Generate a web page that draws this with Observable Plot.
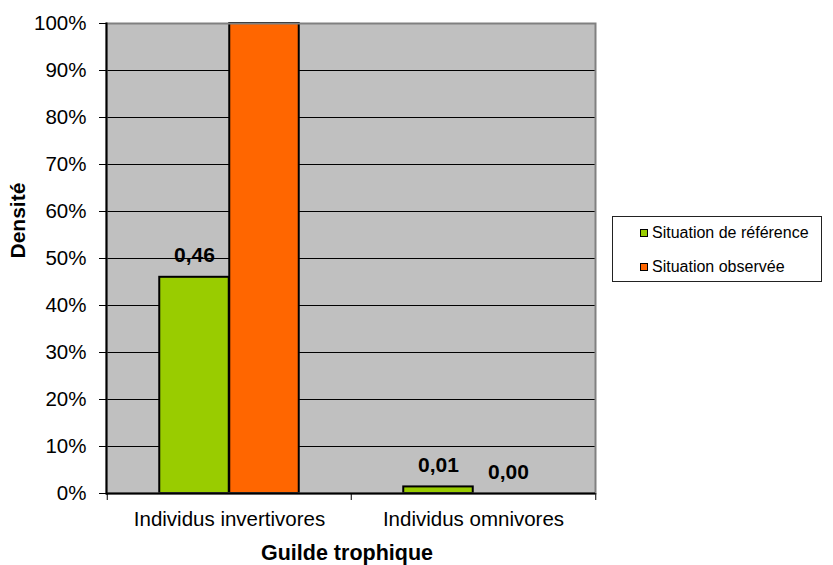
<!DOCTYPE html>
<html>
<head>
<meta charset="utf-8">
<script src="https://cdn.jsdelivr.net/npm/d3@7"></script>
<script src="https://cdn.jsdelivr.net/npm/@observablehq/plot@0.6"></script>
<style>
  html, body { margin: 0; padding: 0; background: #fff; }
  #chart { position: relative; width: 833px; height: 565px; font-family: "Liberation Sans", Arial, sans-serif; }
  .legend { position: absolute; left: 612px; top: 216px; width: 210px; height: 66px; border: 1px solid #222; box-sizing: border-box; background: #fff; }
  .legend .row { position: absolute; left: 27px; display: flex; align-items: center; font-size: 16px; color: #000; white-space: nowrap; }
  .legend .sw { width: 6px; height: 6px; border: 1.5px solid #000; margin-right: 4px; }
</style>
</head>
<body>
<div id="chart"></div>
<script>
// Trophic guild densities: reference vs observed situation
const categories = ["Individus invertivores", "Individus omnivores"];
const series = ["Situation de référence", "Situation observée"];
const reference = [0.46, 0.014];
const observed = [1.0, 0.0];
const yTicks = [0, 0.1, 0.2, 0.3, 0.4, 0.5, 0.6, 0.7, 0.8, 0.9, 1.0];
const colors = ["#99cc00", "#ff6600"];

const rows = categories.flatMap((cat, i) => [
  {cat, series: series[0], value: reference[i]},
  {cat, series: series[1], value: observed[i]}
]);

const width = 833, height = 565;
const marginLeft = 106, marginRight = 238, marginTop = 23, marginBottom = 72;
const band = (width - marginLeft - marginRight) / categories.length;
const barWidth = 70;
const outer = (band - 2 * barWidth) / 2;

const fr = d3.formatLocale({decimal: ",", thousands: " ", grouping: [3], currency: ["", " €"]});
const fmtValue = fr.format(".2f");
const fmtPct = d3.format(".0%");

// value labels are only shown when they fit below the top of the plot area
const labelled = (s) => rows.filter(d => d.series === s && d.value < 1);

const font = "Liberation Sans, Arial, sans-serif";

const plot = Plot.plot({
  width, height, marginLeft, marginRight, marginTop, marginBottom,
  style: {fontFamily: font, fontSize: "20.5px", color: "#000", background: "transparent"},
  x: {domain: categories, padding: 0},
  y: {domain: [0, 1]},
  marks: [
    Plot.frame({fill: "#c0c0c0", stroke: "none"}),
    Plot.ruleY(yTicks.filter(t => t > 0 && t < 1), {stroke: "#000", strokeWidth: 1}),
    Plot.barY(rows.filter(d => d.series === series[0]), {
      x: "cat", y: "value", fill: colors[0], stroke: "#000", strokeWidth: 2,
      insetLeft: outer, insetRight: outer + barWidth
    }),
    Plot.barY(rows.filter(d => d.series === series[1] && d.value > 0), {
      x: "cat", y: "value", fill: colors[1], stroke: "#000", strokeWidth: 2,
      insetLeft: outer + barWidth, insetRight: outer
    }),
    Plot.text(labelled(series[0]), {
      x: "cat", y: "value", text: d => fmtValue(d.value), dx: -barWidth / 2, dy: -15,
      lineAnchor: "bottom", fontWeight: "bold", fontSize: 21, fill: "#000"
    }),
    Plot.text(labelled(series[1]), {
      x: "cat", y: "value", text: d => fmtValue(d.value), dx: barWidth / 2, dy: -15,
      lineAnchor: "bottom", fontWeight: "bold", fontSize: 21, fill: "#000"
    }),
    Plot.frame({stroke: "#808080", strokeWidth: 2}),
    Plot.frame({anchor: "left", stroke: "#000", strokeWidth: 2}),
    Plot.ruleY([0], {stroke: "#000", strokeWidth: 2}),
    Plot.axisY({ticks: yTicks, tickFormat: fmtPct, tickSize: 7, tickPadding: 13, fontSize: 20.5, label: null}),
    Plot.axisX({tickSize: 0, tickPadding: 18, fontSize: 20.5, label: null}),
    Plot.axisX({tickSize: 7, tickFormat: null, dx: -band / 2, label: null}),
    Plot.axisX({ticks: [categories[categories.length - 1]], tickSize: 7, tickFormat: null, dx: band / 2, label: null}),
    Plot.text(["Densité"], {
      frameAnchor: "left", dx: -88, rotate: -90, lineAnchor: "middle",
      fontWeight: "bold", fontSize: 21, fill: "#000"
    }),
    Plot.text(["Guilde trophique"], {
      frameAnchor: "bottom", dx: -4, dy: 66, lineAnchor: "bottom",
      fontWeight: "bold", fontSize: 21.5, fill: "#000"
    })
  ]
});

const chart = document.getElementById("chart");
chart.appendChild(plot);

// Legend to the right of the plot area
const legend = document.createElement("div");
legend.className = "legend";
series.forEach((name, i) => {
  const row = document.createElement("div");
  row.className = "row";
  row.style.top = (i === 0 ? 7 : 41) + "px";
  const sw = document.createElement("span");
  sw.className = "sw";
  sw.style.background = colors[i];
  const label = document.createElement("span");
  label.textContent = name;
  row.appendChild(sw);
  row.appendChild(label);
  legend.appendChild(row);
});
chart.appendChild(legend);
</script>
</body>
</html>
